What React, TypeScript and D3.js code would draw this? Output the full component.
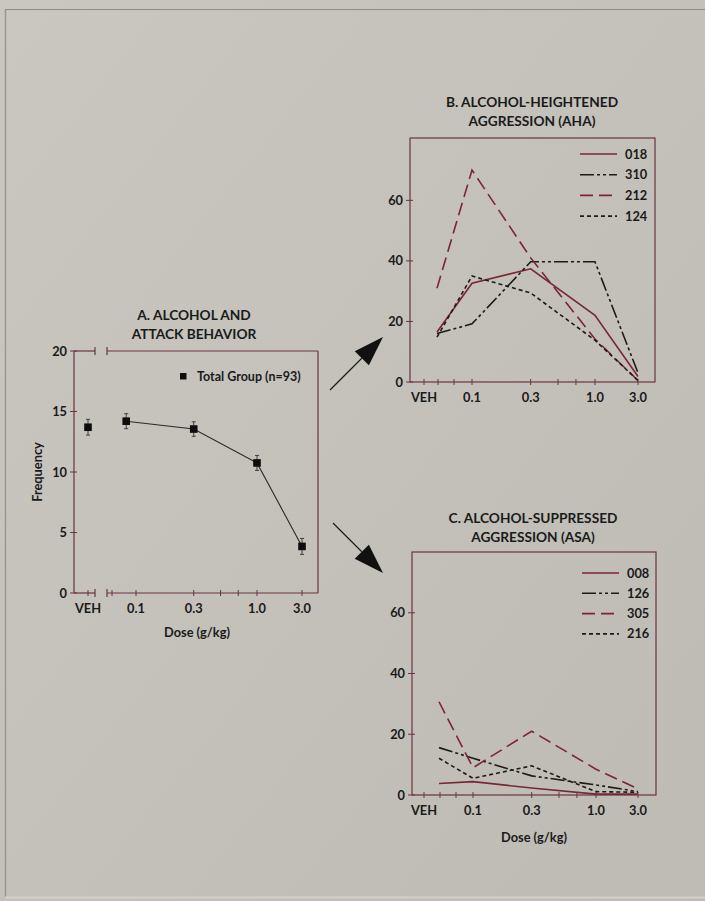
import React from "react";
import * as d3 from "d3";

// ---------- data ----------
const doseLabels = ["VEH", "0.1", "0.3", "1.0", "3.0"];
const doseTicks = [0.1, 0.3, 1.0, 3.0];
const minorDoseTicks = [0.5, 0.7];

// Panel A: total group means (VEH, 0.1, 0.3, 1.0, 3.0)
const aMeans = [13.7, 14.2, 13.55, 10.75, 3.85];
const aSE = [0.65, 0.62, 0.6, 0.62, 0.66];
const aPlotDoses = [0.083, 0.3, 1.0, 3.0]; // x positions of non-VEH points as drawn
const aYTicks = [0, 5, 10, 15, 20];

// Panel B: alcohol-heightened aggression
const bNames = ["018", "310", "212", "124"];
const b018 = [16.5, 32.6, 37.4, 22.0, 1.8];
const b310 = [16.0, 19.2, 39.7, 39.7, 3.0];
const b212 = [31.0, 70.0, 41.0, 14.2, 0.5];
const b124 = [14.8, 35.0, 29.4, 13.8, 0.5];

// Panel C: alcohol-suppressed aggression
const cNames = ["008", "126", "305", "216"];
const c008 = [3.8, 4.4, 2.3, 0.3, 0.3];
const c126 = [15.6, 12.1, 6.3, 3.3, 1.1];
const c305 = [30.7, 9.0, 21.0, 8.5, 2.0];
const c216 = [12.1, 5.5, 9.6, 1.1, 0.9];

const multiYTicks = [0, 20, 40, 60];

// ---------- styles ----------
const AXIS = "#6a3442";
const FONT = "Lato, 'Open Sans', sans-serif";
const styles = [
  { color: "#7a2634", dash: "" },
  { color: "#1e1a1a", dash: "14,3,3,3,3,3" },
  { color: "#7a2634", dash: "13,6" },
  { color: "#1e1a1a", dash: "4,3" },
];

type Panel = {
  left: number; top: number; width: number; height: number;
  yMax: number; vehData: number; vehLabel: number; range: number[];
};

function makeX(p: Panel) {
  return d3.scaleLog().domain([0.1, 1, 3]).range(p.range.map((r) => p.left + r));
}

function XAxis({ p, broken }: { p: Panel; broken: boolean }) {
  const x = makeX(p);
  const y0 = p.top + p.height;
  const ticksX: number[] = [];
  ticksX.push(p.left + p.vehLabel);
  if (broken) ticksX.push(p.left + 38);
  else { ticksX.push(p.left + 28); ticksX.push(p.left + 44); }
  doseTicks.forEach((d) => ticksX.push(x(d)));
  minorDoseTicks.forEach((d) => ticksX.push(x(d)));
  const labelX = [p.left + p.vehLabel, ...doseTicks.map((d) => x(d))];
  return (
    <g>
      {ticksX.map((tx, i) => (
        <line key={i} x1={tx} x2={tx} y1={y0 - 3} y2={y0 + 3} stroke={AXIS} strokeWidth={1} />
      ))}
      {doseLabels.map((l, i) => (
        <text key={l} x={labelX[i]} y={y0 + 20} textAnchor="middle" fontFamily={FONT}
          fontWeight={700} fontSize={12.8} fill="#1a1a1a">{l}</text>
      ))}
    </g>
  );
}

function Frame({ p, broken }: { p: Panel; broken: boolean }) {
  const { left, top, width, height } = p;
  const b = top + height, r = left + width;
  if (!broken) {
    return <rect x={left} y={top} width={width} height={height} fill="none" stroke={AXIS} strokeWidth={1.2} />;
  }
  const g1 = left + 21, g2 = left + 33;
  return (
    <g stroke={AXIS} strokeWidth={1.2} fill="none">
      <line x1={left} x2={left} y1={top} y2={b} />
      <line x1={r} x2={r} y1={top} y2={b} />
      {[top, b].map((yy, i) => (
        <g key={i}>
          <line x1={left} x2={g1} y1={yy} y2={yy} />
          <line x1={g2} x2={r} y1={yy} y2={yy} />
          <line x1={g1} x2={g1} y1={yy - 4} y2={yy + 4} />
          <line x1={g2} x2={g2} y1={yy - 4} y2={yy + 4} />
        </g>
      ))}
    </g>
  );
}

function YAxis({ p, ticks }: { p: Panel; ticks: number[] }) {
  const y = d3.scaleLinear().domain([0, p.yMax]).range([p.top + p.height, p.top]);
  return (
    <g>
      {ticks.map((t) => (
        <g key={t}>
          <line x1={p.left - 4} x2={p.left + 3} y1={y(t)} y2={y(t)} stroke={AXIS} strokeWidth={1} />
          <text x={p.left - 7} y={y(t) + 4.5} textAnchor="end" fontFamily={FONT} fontWeight={700}
            fontSize={12.8} fill="#1a1a1a">{t}</text>
        </g>
      ))}
    </g>
  );
}

function Title({ x, y, lines }: { x: number; y: number; lines: string[] }) {
  return (
    <g>
      {lines.map((l, i) => (
        <text key={i} x={x} y={y + i * 19} textAnchor="middle" fontFamily={FONT} fontWeight={700}
          fontSize={13.7} fill="#1a1a1a">{l}</text>
      ))}
    </g>
  );
}

function MultiPanel({ p, names, series, legendTop, legendStep }:
  { p: Panel; names: string[]; series: number[][]; legendTop: number; legendStep: number }) {
  const x = makeX(p);
  const y = d3.scaleLinear().domain([0, p.yMax]).range([p.top + p.height, p.top]);
  const xAt = (i: number) => (i === 0 ? p.left + p.vehData : x(doseTicks[i - 1]));
  const line = d3.line<number>().x((_, i) => xAt(i)).y((v) => y(v));
  return (
    <g>
      <Frame p={p} broken={false} />
      <YAxis p={p} ticks={multiYTicks} />
      <XAxis p={p} broken={false} />
      {series.map((s, k) => (
        <path key={k} d={line(s) || ""} fill="none" stroke={styles[k].color} strokeWidth={1.6}
          strokeDasharray={styles[k].dash} />
      ))}
      {names.map((n, k) => {
        const ly = p.top + legendTop + k * legendStep;
        return (
          <g key={n}>
            <line x1={p.left + 170} x2={p.left + 207} y1={ly} y2={ly} stroke={styles[k].color}
              strokeWidth={1.6} strokeDasharray={styles[k].dash} />
            <text x={p.left + 215} y={ly + 4.5} fontFamily={FONT} fontWeight={700} fontSize={12.8}
              fill="#1a1a1a">{n}</text>
          </g>
        );
      })}
    </g>
  );
}

function Arrow({ x1, y1, x2, y2 }: { x1: number; y1: number; x2: number; y2: number }) {
  const ang = Math.atan2(y2 - y1, x2 - x1);
  const L = 30, W = 10;
  const bx = x2 - L * Math.cos(ang), by = y2 - L * Math.sin(ang);
  const px = -Math.sin(ang) * W, py = Math.cos(ang) * W;
  const pts = [[x2, y2], [bx + px, by + py], [bx - px, by - py]];
  return (
    <g>
      <line x1={x1} y1={y1} x2={bx} y2={by} stroke="#1a1a1a" strokeWidth={1.2} />
      <polygon points={pts.map((q) => q.join(",")).join(" ")} fill="#111" />
    </g>
  );
}

export default function App() {
  const A: Panel = { left: 74, top: 351, width: 244, height: 242, yMax: 20, vehData: 14, vehLabel: 14, range: [62, 183, 228] };
  const B: Panel = { left: 410, top: 138, width: 245, height: 244, yMax: 80.6, vehData: 27, vehLabel: 14, range: [62, 185, 228] };
  const C: Panel = { left: 412, top: 552, width: 244, height: 243, yMax: 80, vehData: 27, vehLabel: 12, range: [61, 184, 226] };

  const xA = makeX(A);
  const yA = d3.scaleLinear().domain([0, A.yMax]).range([A.top + A.height, A.top]);
  const aX = [A.left + A.vehData, ...aPlotDoses.map((d) => xA(d))];
  const aLine = d3.line<number>().x((_, i) => aX[i + 1]).y((v) => yA(v));

  return (
    <svg width={705} height={901} style={{ position: "absolute", left: 0, top: 0 }}>
      <defs>
        <linearGradient id="bg" x1="0" y1="0" x2="1" y2="1">
          <stop offset="0" stopColor="#c9c7c0" />
          <stop offset="1" stopColor="#bdbbb4" />
        </linearGradient>
      </defs>
      <rect x={0} y={0} width={705} height={901} fill="url(#bg)" />
      <line x1={5} x2={705} y1={9.5} y2={9.5} stroke="#8e8b86" strokeWidth={1} />
      <line x1={5.5} x2={5.5} y1={9} y2={897} stroke="#9a9792" strokeWidth={1.5} />
      <line x1={5} x2={705} y1={897.5} y2={897.5} stroke="#d2d0ca" strokeWidth={2} />

      {/* Panel A */}
      <Title x={194} y={320} lines={["A. ALCOHOL AND", "ATTACK BEHAVIOR"]} />
      <Frame p={A} broken={true} />
      <YAxis p={A} ticks={aYTicks} />
      <XAxis p={A} broken={true} />
      <text transform="translate(42,472) rotate(-90)" textAnchor="middle" fontFamily={FONT}
        fontWeight={700} fontSize={12.8} fill="#1a1a1a">Frequency</text>
      <text x={197} y={637} textAnchor="middle" fontFamily={FONT} fontWeight={700} fontSize={12.8}
        fill="#1a1a1a">Dose (g/kg)</text>
      <path d={aLine(aMeans.slice(1)) || ""} fill="none" stroke="#2a2a2a" strokeWidth={1.1} />
      {aMeans.map((m, i) => {
        const cx = aX[i], cy = yA(m);
        const t = yA(m + aSE[i]), b = yA(m - aSE[i]);
        return (
          <g key={i}>
            <line x1={cx} x2={cx} y1={t} y2={b} stroke="#222" strokeWidth={0.8} />
            <line x1={cx - 2} x2={cx + 2} y1={t} y2={t} stroke="#222" strokeWidth={0.8} />
            <line x1={cx - 2} x2={cx + 2} y1={b} y2={b} stroke="#222" strokeWidth={0.8} />
            <rect x={cx - 3.8} y={cy - 3.8} width={7.6} height={7.6} fill="#0d0d0d" />
          </g>
        );
      })}
      <rect x={180} y={373} width={6.5} height={6.5} fill="#0d0d0d" />
      <text x={197} y={380.5} fontFamily={FONT} fontWeight={700} fontSize={12.5} fill="#1a1a1a">Total Group (n=93)</text>

      {/* Panel B */}
      <Title x={532} y={107} lines={["B. ALCOHOL-HEIGHTENED", "AGGRESSION (AHA)"]} />
      <MultiPanel p={B} names={bNames} series={[b018, b310, b212, b124]} legendTop={16} legendStep={20.7} />

      {/* Panel C */}
      <Title x={533} y={522.5} lines={["C. ALCOHOL-SUPPRESSED", "AGGRESSION (ASA)"]} />
      <MultiPanel p={C} names={cNames} series={[c008, c126, c305, c216]} legendTop={21} legendStep={20.3} />
      <text x={534} y={842} textAnchor="middle" fontFamily={FONT} fontWeight={700} fontSize={12.8}
        fill="#1a1a1a">Dose (g/kg)</text>

      {/* arrows */}
      <Arrow x1={330} y1={390} x2={383} y2={337} />
      <Arrow x1={333} y1={523} x2={383} y2={573} />
    </svg>
  );
}
